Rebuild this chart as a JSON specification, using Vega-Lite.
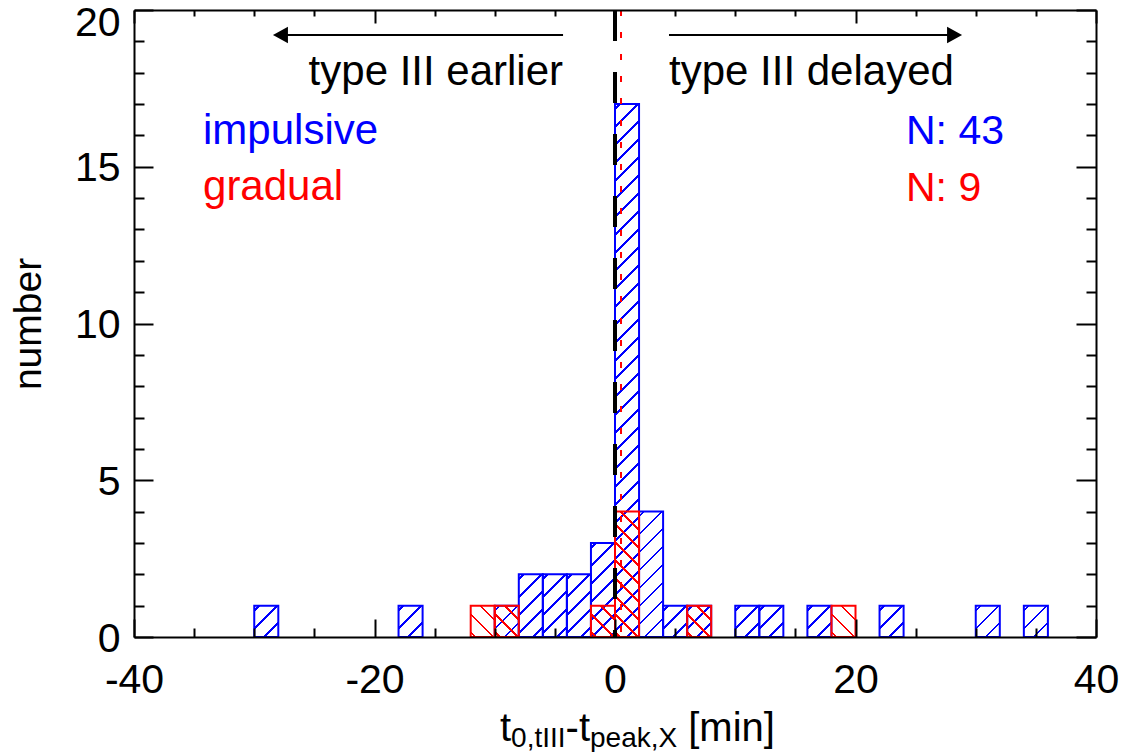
{
"$schema":"https://vega.github.io/schema/vega-lite/v6.json",
"width":962,"height":627,
"autosize":{"type":"none"},
"padding":{"left":134,"top":10,"right":25,"bottom":115},
"background":"white",
"config":{"view":{"stroke":null},"font":"Liberation Sans"},
"data":{"values":[
{"group":"impulsive","start":-30,"end":-28,"count":1},
{"group":"impulsive","start":-18,"end":-16,"count":1},
{"group":"impulsive","start":-10,"end":-8,"count":1},
{"group":"impulsive","start":-8,"end":-6,"count":2},
{"group":"impulsive","start":-6,"end":-4,"count":2},
{"group":"impulsive","start":-4,"end":-2,"count":2},
{"group":"impulsive","start":-2,"end":0,"count":3},
{"group":"impulsive","start":0,"end":2,"count":17},
{"group":"impulsive","start":2,"end":4,"count":4},
{"group":"impulsive","start":4,"end":6,"count":1},
{"group":"impulsive","start":6,"end":8,"count":1},
{"group":"impulsive","start":10,"end":12,"count":1},
{"group":"impulsive","start":12,"end":14,"count":1},
{"group":"impulsive","start":16,"end":18,"count":1},
{"group":"impulsive","start":22,"end":24,"count":1},
{"group":"impulsive","start":30,"end":32,"count":1},
{"group":"impulsive","start":34,"end":36,"count":1},
{"group":"gradual","start":-12,"end":-10,"count":1},
{"group":"gradual","start":-10,"end":-8,"count":1},
{"group":"gradual","start":-2,"end":0,"count":1},
{"group":"gradual","start":0,"end":2,"count":4},
{"group":"gradual","start":6,"end":8,"count":1},
{"group":"gradual","start":18,"end":20,"count":1}
]},
"resolve":{"axis":{"x":"independent","y":"independent"}},
"layer":[
{
"transform":[{"filter":"datum.group === 'impulsive' && datum.count === 1"}],
"mark":{"type":"bar","stroke":"#0000ff","strokeWidth":2,"fill":{"gradient":"linear","x1":0,"y1":0,"x2":0.8534,"y2":1.1125,"stops":[
{"offset":0,"color":"transparent"},
{"offset":0.0668,"color":"transparent"},{"offset":0.0668,"color":"#0000ff"},{"offset":0.1137,"color":"#0000ff"},{"offset":0.1137,"color":"transparent"},
{"offset":0.3917,"color":"transparent"},{"offset":0.3917,"color":"#0000ff"},{"offset":0.4386,"color":"#0000ff"},{"offset":0.4386,"color":"transparent"},
{"offset":0.7166,"color":"transparent"},{"offset":0.7166,"color":"#0000ff"},{"offset":0.7635,"color":"#0000ff"},{"offset":0.7635,"color":"transparent"},
{"offset":1,"color":"transparent"}]}},
"encoding":{
"x":{"field":"start","type":"quantitative","scale":{"domain":[-40,40],"nice":false,"zero":false},
"axis":{"orient":"bottom","values":[-40,-20,0,20,40],"labelExpr":"'' + datum.value","tickSize":-18,"tickWidth":2,"tickColor":"black","domain":true,"domainColor":"black","domainWidth":2,"labels":true,"labelFont":"Liberation Sans","labelFontSize":41,"labelColor":"black","labelPadding":41,"labelFlush":false,"labelOverlap":false,"title":null,"grid":false,"zindex":2}},
"x2":{"field":"end"},
"y":{"field":"count","type":"quantitative","stack":null,"scale":{"domain":[0,20],"nice":false},
"axis":{"orient":"left","values":[0,5,10,15,20],"labelExpr":"'' + datum.value","tickSize":-19,"tickWidth":2,"tickColor":"black","domain":true,"domainColor":"black","domainWidth":2,"labels":true,"labelFont":"Liberation Sans","labelFontSize":41,"labelColor":"black","labelPadding":33,"labelOffset":{"condition":{"test":"datum.value === 20","value":13},"value":2},"labelOverlap":false,"labelFlush":false,"title":"number","titleFont":"Liberation Sans","titleFontSize":39,"titleFontWeight":"normal","titleColor":"black","titlePadding":26,"grid":false,"zindex":2}},
"y2":{"datum":0}
}
},
{
"transform":[{"filter":"datum.group === 'impulsive' && datum.count === 2"}],
"mark":{"type":"bar","stroke":"#0000ff","strokeWidth":2,"fill":{"gradient":"linear","x1":0,"y1":0,"x2":0.4626,"y2":1.2061,"stops":[
{"offset":0,"color":"transparent"},
{"offset":0.0427,"color":"transparent"},{"offset":0.0427,"color":"#0000ff"},{"offset":0.0726,"color":"#0000ff"},{"offset":0.0726,"color":"transparent"},
{"offset":0.2501,"color":"transparent"},{"offset":0.2501,"color":"#0000ff"},{"offset":0.2801,"color":"#0000ff"},{"offset":0.2801,"color":"transparent"},
{"offset":0.4576,"color":"transparent"},{"offset":0.4576,"color":"#0000ff"},{"offset":0.4876,"color":"#0000ff"},{"offset":0.4876,"color":"transparent"},
{"offset":0.6651,"color":"transparent"},{"offset":0.6651,"color":"#0000ff"},{"offset":0.6951,"color":"#0000ff"},{"offset":0.6951,"color":"transparent"},
{"offset":0.8726,"color":"transparent"},{"offset":0.8726,"color":"#0000ff"},{"offset":0.9026,"color":"#0000ff"},{"offset":0.9026,"color":"transparent"},
{"offset":1,"color":"transparent"}]}},
"encoding":{
"x":{"field":"start","type":"quantitative",
"axis":{"orient":"bottom","values":[-35,-30,-25,-15,-10,-5,5,10,15,25,30,35],"tickSize":-9,"tickWidth":2,"tickColor":"black","domain":false,"labels":false,"title":null,"grid":false,"zindex":2}},
"x2":{"field":"end"},
"y":{"field":"count","type":"quantitative","stack":null,
"axis":{"orient":"left","values":[1,2,3,4,6,7,8,9,11,12,13,14,16,17,18,19],"tickSize":-10,"tickWidth":2,"tickColor":"black","domain":false,"labels":false,"title":null,"grid":false,"zindex":2}},
"y2":{"datum":0}
}
},
{
"transform":[{"filter":"datum.group === 'impulsive' && datum.count === 3"}],
"mark":{"type":"bar","stroke":"#0000ff","strokeWidth":2,"fill":{"gradient":"linear","x1":0,"y1":0,"x2":0.3014,"y2":1.1786,"stops":[
{"offset":0,"color":"transparent"},
{"offset":0.0313,"color":"transparent"},{"offset":0.0313,"color":"#0000ff"},{"offset":0.0533,"color":"#0000ff"},{"offset":0.0533,"color":"transparent"},
{"offset":0.1837,"color":"transparent"},{"offset":0.1837,"color":"#0000ff"},{"offset":0.2058,"color":"#0000ff"},{"offset":0.2058,"color":"transparent"},
{"offset":0.3362,"color":"transparent"},{"offset":0.3362,"color":"#0000ff"},{"offset":0.3582,"color":"#0000ff"},{"offset":0.3582,"color":"transparent"},
{"offset":0.4886,"color":"transparent"},{"offset":0.4886,"color":"#0000ff"},{"offset":0.5106,"color":"#0000ff"},{"offset":0.5106,"color":"transparent"},
{"offset":0.6410,"color":"transparent"},{"offset":0.6410,"color":"#0000ff"},{"offset":0.6630,"color":"#0000ff"},{"offset":0.6630,"color":"transparent"},
{"offset":0.7934,"color":"transparent"},{"offset":0.7934,"color":"#0000ff"},{"offset":0.8154,"color":"#0000ff"},{"offset":0.8154,"color":"transparent"},
{"offset":0.9458,"color":"transparent"},{"offset":0.9458,"color":"#0000ff"},{"offset":0.9678,"color":"#0000ff"},{"offset":0.9678,"color":"transparent"},
{"offset":1,"color":"transparent"}]}},
"encoding":{
"x":{"field":"start","type":"quantitative",
"axis":{"orient":"top","values":[-40,-20,0,20,40],"tickSize":-13,"tickWidth":2,"tickColor":"black","domain":true,"domainColor":"black","domainWidth":2,"labels":false,"title":null,"grid":false,"zindex":2}},
"x2":{"field":"end"},
"y":{"field":"count","type":"quantitative","stack":null,
"axis":{"orient":"right","values":[0,5,10,15,20],"tickSize":-20,"tickWidth":2,"tickColor":"black","domain":true,"domainColor":"black","domainWidth":2,"labels":false,"title":null,"grid":false,"zindex":2}},
"y2":{"datum":0}
}
},
{
"transform":[{"filter":"datum.group === 'impulsive' && datum.count === 4"}],
"mark":{"type":"bar","stroke":"#0000ff","strokeWidth":2,"fill":{"gradient":"linear","x1":0,"y1":0,"x2":0.2205,"y2":1.1495,"stops":[
{"offset":0,"color":"transparent"},
{"offset":0.0248,"color":"transparent"},{"offset":0.0248,"color":"#0000ff"},{"offset":0.0422,"color":"#0000ff"},{"offset":0.0422,"color":"transparent"},
{"offset":0.1452,"color":"transparent"},{"offset":0.1452,"color":"#0000ff"},{"offset":0.1626,"color":"#0000ff"},{"offset":0.1626,"color":"transparent"},
{"offset":0.2656,"color":"transparent"},{"offset":0.2656,"color":"#0000ff"},{"offset":0.2830,"color":"#0000ff"},{"offset":0.2830,"color":"transparent"},
{"offset":0.3861,"color":"transparent"},{"offset":0.3861,"color":"#0000ff"},{"offset":0.4035,"color":"#0000ff"},{"offset":0.4035,"color":"transparent"},
{"offset":0.5065,"color":"transparent"},{"offset":0.5065,"color":"#0000ff"},{"offset":0.5239,"color":"#0000ff"},{"offset":0.5239,"color":"transparent"},
{"offset":0.6270,"color":"transparent"},{"offset":0.6270,"color":"#0000ff"},{"offset":0.6444,"color":"#0000ff"},{"offset":0.6444,"color":"transparent"},
{"offset":0.7474,"color":"transparent"},{"offset":0.7474,"color":"#0000ff"},{"offset":0.7648,"color":"#0000ff"},{"offset":0.7648,"color":"transparent"},
{"offset":0.8679,"color":"transparent"},{"offset":0.8679,"color":"#0000ff"},{"offset":0.8853,"color":"#0000ff"},{"offset":0.8853,"color":"transparent"},
{"offset":1,"color":"transparent"}]}},
"encoding":{
"x":{"field":"start","type":"quantitative",
"axis":{"orient":"top","values":[-35,-30,-25,-15,-10,-5,5,10,15,25,30,35],"tickSize":-6,"tickWidth":2,"tickColor":"black","domain":false,"labels":false,"title":null,"grid":false,"zindex":2}},
"x2":{"field":"end"},
"y":{"field":"count","type":"quantitative","stack":null,
"axis":{"orient":"right","values":[1,2,3,4,6,7,8,9,11,12,13,14,16,17,18,19],"tickSize":-10,"tickWidth":2,"tickColor":"black","domain":false,"labels":false,"title":null,"grid":false,"zindex":2}},
"y2":{"datum":0}
}
},
{
"transform":[{"filter":"datum.group === 'impulsive' && datum.count === 17"}],
"mark":{"type":"bar","stroke":"#0000ff","strokeWidth":2,"fill":{"gradient":"linear","x1":0,"y1":0,"x2":0.04707,"y2":1.0430,"stops":[
{"offset":0,"color":"transparent"},
{"offset":0.00664,"color":"transparent"},{"offset":0.00664,"color":"#0000ff"},{"offset":0.01131,"color":"#0000ff"},{"offset":0.01131,"color":"transparent"},
{"offset":0.03896,"color":"transparent"},{"offset":0.03896,"color":"#0000ff"},{"offset":0.04363,"color":"#0000ff"},{"offset":0.04363,"color":"transparent"},
{"offset":0.07127,"color":"transparent"},{"offset":0.07127,"color":"#0000ff"},{"offset":0.07594,"color":"#0000ff"},{"offset":0.07594,"color":"transparent"},
{"offset":0.10359,"color":"transparent"},{"offset":0.10359,"color":"#0000ff"},{"offset":0.10826,"color":"#0000ff"},{"offset":0.10826,"color":"transparent"},
{"offset":0.13591,"color":"transparent"},{"offset":0.13591,"color":"#0000ff"},{"offset":0.14057,"color":"#0000ff"},{"offset":0.14057,"color":"transparent"},
{"offset":0.16822,"color":"transparent"},{"offset":0.16822,"color":"#0000ff"},{"offset":0.17289,"color":"#0000ff"},{"offset":0.17289,"color":"transparent"},
{"offset":0.20054,"color":"transparent"},{"offset":0.20054,"color":"#0000ff"},{"offset":0.20521,"color":"#0000ff"},{"offset":0.20521,"color":"transparent"},
{"offset":0.23285,"color":"transparent"},{"offset":0.23285,"color":"#0000ff"},{"offset":0.23752,"color":"#0000ff"},{"offset":0.23752,"color":"transparent"},
{"offset":0.26517,"color":"transparent"},{"offset":0.26517,"color":"#0000ff"},{"offset":0.26984,"color":"#0000ff"},{"offset":0.26984,"color":"transparent"},
{"offset":0.29749,"color":"transparent"},{"offset":0.29749,"color":"#0000ff"},{"offset":0.30215,"color":"#0000ff"},{"offset":0.30215,"color":"transparent"},
{"offset":0.32980,"color":"transparent"},{"offset":0.32980,"color":"#0000ff"},{"offset":0.33447,"color":"#0000ff"},{"offset":0.33447,"color":"transparent"},
{"offset":0.36212,"color":"transparent"},{"offset":0.36212,"color":"#0000ff"},{"offset":0.36679,"color":"#0000ff"},{"offset":0.36679,"color":"transparent"},
{"offset":0.39443,"color":"transparent"},{"offset":0.39443,"color":"#0000ff"},{"offset":0.39910,"color":"#0000ff"},{"offset":0.39910,"color":"transparent"},
{"offset":0.42675,"color":"transparent"},{"offset":0.42675,"color":"#0000ff"},{"offset":0.43142,"color":"#0000ff"},{"offset":0.43142,"color":"transparent"},
{"offset":0.45907,"color":"transparent"},{"offset":0.45907,"color":"#0000ff"},{"offset":0.46373,"color":"#0000ff"},{"offset":0.46373,"color":"transparent"},
{"offset":0.49138,"color":"transparent"},{"offset":0.49138,"color":"#0000ff"},{"offset":0.49605,"color":"#0000ff"},{"offset":0.49605,"color":"transparent"},
{"offset":0.52370,"color":"transparent"},{"offset":0.52370,"color":"#0000ff"},{"offset":0.52837,"color":"#0000ff"},{"offset":0.52837,"color":"transparent"},
{"offset":0.55601,"color":"transparent"},{"offset":0.55601,"color":"#0000ff"},{"offset":0.56068,"color":"#0000ff"},{"offset":0.56068,"color":"transparent"},
{"offset":0.58833,"color":"transparent"},{"offset":0.58833,"color":"#0000ff"},{"offset":0.59300,"color":"#0000ff"},{"offset":0.59300,"color":"transparent"},
{"offset":0.62065,"color":"transparent"},{"offset":0.62065,"color":"#0000ff"},{"offset":0.62531,"color":"#0000ff"},{"offset":0.62531,"color":"transparent"},
{"offset":0.65296,"color":"transparent"},{"offset":0.65296,"color":"#0000ff"},{"offset":0.65763,"color":"#0000ff"},{"offset":0.65763,"color":"transparent"},
{"offset":0.68528,"color":"transparent"},{"offset":0.68528,"color":"#0000ff"},{"offset":0.68995,"color":"#0000ff"},{"offset":0.68995,"color":"transparent"},
{"offset":0.71759,"color":"transparent"},{"offset":0.71759,"color":"#0000ff"},{"offset":0.72226,"color":"#0000ff"},{"offset":0.72226,"color":"transparent"},
{"offset":0.74991,"color":"transparent"},{"offset":0.74991,"color":"#0000ff"},{"offset":0.75458,"color":"#0000ff"},{"offset":0.75458,"color":"transparent"},
{"offset":0.78223,"color":"transparent"},{"offset":0.78223,"color":"#0000ff"},{"offset":0.78689,"color":"#0000ff"},{"offset":0.78689,"color":"transparent"},
{"offset":0.81454,"color":"transparent"},{"offset":0.81454,"color":"#0000ff"},{"offset":0.81921,"color":"#0000ff"},{"offset":0.81921,"color":"transparent"},
{"offset":0.84686,"color":"transparent"},{"offset":0.84686,"color":"#0000ff"},{"offset":0.85153,"color":"#0000ff"},{"offset":0.85153,"color":"transparent"},
{"offset":0.87917,"color":"transparent"},{"offset":0.87917,"color":"#0000ff"},{"offset":0.88384,"color":"#0000ff"},{"offset":0.88384,"color":"transparent"},
{"offset":0.91149,"color":"transparent"},{"offset":0.91149,"color":"#0000ff"},{"offset":0.91616,"color":"#0000ff"},{"offset":0.91616,"color":"transparent"},
{"offset":0.94381,"color":"transparent"},{"offset":0.94381,"color":"#0000ff"},{"offset":0.94847,"color":"#0000ff"},{"offset":0.94847,"color":"transparent"},
{"offset":0.97612,"color":"transparent"},{"offset":0.97612,"color":"#0000ff"},{"offset":0.98079,"color":"#0000ff"},{"offset":0.98079,"color":"transparent"},
{"offset":1,"color":"transparent"}]}},
"encoding":{
"x":{"field":"start","type":"quantitative","axis":null},
"x2":{"field":"end"},
"y":{"field":"count","type":"quantitative","stack":null,"axis":null},
"y2":{"datum":0}
}
},
{
"transform":[{"filter":"datum.group === 'gradual' && datum.count === 1"}],
"mark":{"type":"bar","stroke":"#ff0000","strokeWidth":2,"fill":{"gradient":"linear","x1":0,"y1":1,"x2":0.8534,"y2":-0.1125,"stops":[
{"offset":0,"color":"transparent"},
{"offset":0.0668,"color":"transparent"},{"offset":0.0668,"color":"#ff0000"},{"offset":0.1137,"color":"#ff0000"},{"offset":0.1137,"color":"transparent"},
{"offset":0.3917,"color":"transparent"},{"offset":0.3917,"color":"#ff0000"},{"offset":0.4386,"color":"#ff0000"},{"offset":0.4386,"color":"transparent"},
{"offset":0.7166,"color":"transparent"},{"offset":0.7166,"color":"#ff0000"},{"offset":0.7635,"color":"#ff0000"},{"offset":0.7635,"color":"transparent"},
{"offset":1,"color":"transparent"}]}},
"encoding":{
"x":{"field":"start","type":"quantitative","axis":null},
"x2":{"field":"end"},
"y":{"field":"count","type":"quantitative","stack":null,"axis":null},
"y2":{"datum":0}
}
},
{
"transform":[{"filter":"datum.group === 'gradual' && datum.count === 4"}],
"mark":{"type":"bar","stroke":"#ff0000","strokeWidth":2,"fill":{"gradient":"linear","x1":0,"y1":1,"x2":0.2205,"y2":-0.1495,"stops":[
{"offset":0,"color":"transparent"},
{"offset":0.0248,"color":"transparent"},{"offset":0.0248,"color":"#ff0000"},{"offset":0.0422,"color":"#ff0000"},{"offset":0.0422,"color":"transparent"},
{"offset":0.1452,"color":"transparent"},{"offset":0.1452,"color":"#ff0000"},{"offset":0.1626,"color":"#ff0000"},{"offset":0.1626,"color":"transparent"},
{"offset":0.2656,"color":"transparent"},{"offset":0.2656,"color":"#ff0000"},{"offset":0.2830,"color":"#ff0000"},{"offset":0.2830,"color":"transparent"},
{"offset":0.3861,"color":"transparent"},{"offset":0.3861,"color":"#ff0000"},{"offset":0.4035,"color":"#ff0000"},{"offset":0.4035,"color":"transparent"},
{"offset":0.5065,"color":"transparent"},{"offset":0.5065,"color":"#ff0000"},{"offset":0.5239,"color":"#ff0000"},{"offset":0.5239,"color":"transparent"},
{"offset":0.6270,"color":"transparent"},{"offset":0.6270,"color":"#ff0000"},{"offset":0.6444,"color":"#ff0000"},{"offset":0.6444,"color":"transparent"},
{"offset":0.7474,"color":"transparent"},{"offset":0.7474,"color":"#ff0000"},{"offset":0.7648,"color":"#ff0000"},{"offset":0.7648,"color":"transparent"},
{"offset":0.8679,"color":"transparent"},{"offset":0.8679,"color":"#ff0000"},{"offset":0.8853,"color":"#ff0000"},{"offset":0.8853,"color":"transparent"},
{"offset":1,"color":"transparent"}]}},
"encoding":{
"x":{"field":"start","type":"quantitative","axis":null},
"x2":{"field":"end"},
"y":{"field":"count","type":"quantitative","stack":null,"axis":null},
"y2":{"datum":0}
}
},
{"data":{"values":[{}]},"mark":{"type":"rule","color":"black","strokeWidth":4,"strokeDash":[31,31]},
"encoding":{"x":{"datum":0,"type":"quantitative","axis":null},"y":{"datum":20,"type":"quantitative","axis":null},"y2":{"datum":0}}},
{"data":{"values":[{}]},"mark":{"type":"rule","color":"#ff0000","strokeWidth":2,"strokeDash":[6,16]},
"encoding":{"x":{"datum":0.5,"type":"quantitative","axis":null},"y":{"datum":20,"type":"quantitative","axis":null},"y2":{"datum":0}}},
{"data":{"values":[{}]},"mark":{"type":"rule","color":"black","strokeWidth":2},
"encoding":{"x":{"datum":-4.32,"type":"quantitative","axis":null},"x2":{"datum":-27.82},"y":{"datum":19.2,"type":"quantitative","axis":null}}},
{"data":{"values":[{}]},"mark":{"type":"rule","color":"black","strokeWidth":2},
"encoding":{"x":{"datum":4.49,"type":"quantitative","axis":null},"x2":{"datum":28.24},"y":{"datum":19.2,"type":"quantitative","axis":null}}},
{"data":{"values":[{}]},"mark":{"type":"point","shape":"M-1,0L1,-1.1L1,1.1Z","filled":true,"color":"black","opacity":1,"size":225,"strokeWidth":0},
"encoding":{"x":{"datum":-27.82,"type":"quantitative","axis":null},"y":{"datum":19.2,"type":"quantitative","axis":null}}},
{"data":{"values":[{}]},"mark":{"type":"point","shape":"M1,0L-1,-1.1L-1,1.1Z","filled":true,"color":"black","opacity":1,"size":225,"strokeWidth":0},
"encoding":{"x":{"datum":28.24,"type":"quantitative","axis":null},"y":{"datum":19.2,"type":"quantitative","axis":null}}},
{"data":{"values":[{}]},"mark":{"type":"text","text":"type III earlier","font":"Liberation Sans","fontSize":42,"color":"black","align":"right","baseline":"alphabetic"},
"encoding":{"x":{"datum":-4.32,"type":"quantitative","axis":null},"y":{"datum":17.61,"type":"quantitative","axis":null}}},
{"data":{"values":[{}]},"mark":{"type":"text","text":"type III delayed","font":"Liberation Sans","fontSize":42,"color":"black","align":"left","baseline":"alphabetic"},
"encoding":{"x":{"datum":4.49,"type":"quantitative","axis":null},"y":{"datum":17.61,"type":"quantitative","axis":null}}},
{"data":{"values":[{}]},"mark":{"type":"text","text":"impulsive","font":"Liberation Sans","fontSize":42,"color":"#0000ff","align":"left","baseline":"alphabetic"},
"encoding":{"x":{"datum":-34.26,"type":"quantitative","axis":null},"y":{"datum":15.73,"type":"quantitative","axis":null}}},
{"data":{"values":[{}]},"mark":{"type":"text","text":"gradual","font":"Liberation Sans","fontSize":42,"color":"#ff0000","align":"left","baseline":"alphabetic"},
"encoding":{"x":{"datum":-34.26,"type":"quantitative","axis":null},"y":{"datum":13.94,"type":"quantitative","axis":null}}},
{"data":{"values":[{}]},"mark":{"type":"text","text":"N: 43","font":"Liberation Sans","fontSize":41,"color":"#0000ff","align":"left","baseline":"alphabetic"},
"encoding":{"x":{"datum":24.2,"type":"quantitative","axis":null},"y":{"datum":15.73,"type":"quantitative","axis":null}}},
{"data":{"values":[{}]},"mark":{"type":"text","text":"N: 9","font":"Liberation Sans","fontSize":41,"color":"#ff0000","align":"left","baseline":"alphabetic"},
"encoding":{"x":{"datum":24.2,"type":"quantitative","axis":null},"y":{"datum":13.91,"type":"quantitative","axis":null}}},
{"data":{"values":[{}]},"mark":{"type":"text","text":"t","font":"Liberation Sans","fontSize":40,"color":"black","align":"left","baseline":"alphabetic"},
"encoding":{"x":{"datum":-9.563,"type":"quantitative","axis":null},"y":{"datum":-3.317,"type":"quantitative","axis":null}}},
{"data":{"values":[{}]},"mark":{"type":"text","text":"0,tIII","font":"Liberation Sans","fontSize":28,"color":"black","align":"left","baseline":"alphabetic"},
"encoding":{"x":{"datum":-8.64,"type":"quantitative","axis":null},"y":{"datum":-3.509,"type":"quantitative","axis":null}}},
{"data":{"values":[{}]},"mark":{"type":"text","text":"-t","font":"Liberation Sans","fontSize":40,"color":"black","align":"left","baseline":"alphabetic"},
"encoding":{"x":{"datum":-4.11,"type":"quantitative","axis":null},"y":{"datum":-3.317,"type":"quantitative","axis":null}}},
{"data":{"values":[{}]},"mark":{"type":"text","text":"peak,X","font":"Liberation Sans","fontSize":28,"color":"black","align":"left","baseline":"alphabetic"},
"encoding":{"x":{"datum":-2.08,"type":"quantitative","axis":null},"y":{"datum":-3.509,"type":"quantitative","axis":null}}},
{"data":{"values":[{}]},"mark":{"type":"text","text":"[min]","font":"Liberation Sans","fontSize":40,"color":"black","align":"left","baseline":"alphabetic"},
"encoding":{"x":{"datum":6.09,"type":"quantitative","axis":null},"y":{"datum":-3.317,"type":"quantitative","axis":null}}}
]
}
